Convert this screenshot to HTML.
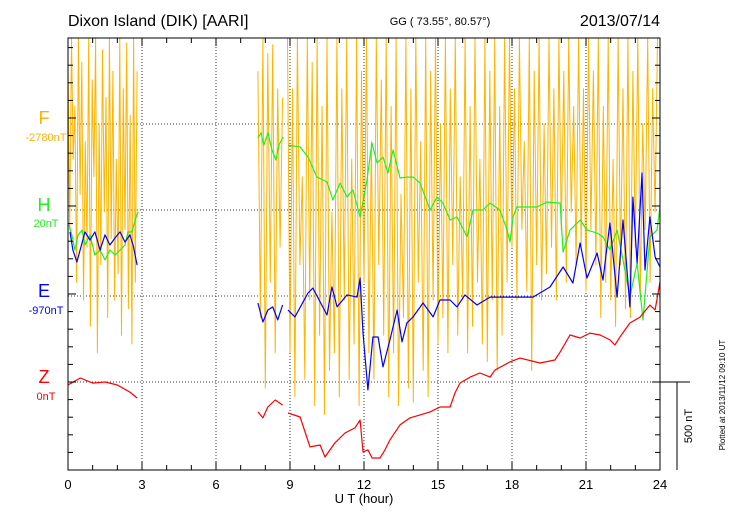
<!DOCTYPE html>
<html><head><meta charset="utf-8"><style>
body{margin:0;background:#fff;}
svg{display:block;font-family:"Liberation Sans",sans-serif;}
</style></head><body>
<svg id="chart" width="730" height="520" viewBox="0 0 730 520">
<defs><clipPath id="plotclip"><rect x="68" y="38" width="592" height="432"/></clipPath></defs>
<text x="68" y="26" font-size="16">Dixon Island (DIK)  [AARI]</text>
<text x="440" y="25" font-size="11" text-anchor="middle">GG ( 73.55°,  80.57°)</text>
<text x="660" y="26" font-size="16" text-anchor="end">2013/07/14</text>
<g id="grid"></g>
<g id="series" clip-path="url(#plotclip)"></g>
<rect x="68" y="38" width="592" height="432" fill="none" stroke="#000" stroke-width="1"/>
<g id="ticks"></g>
<text x="44" y="124" font-size="18" fill="#ffb000" text-anchor="middle">F</text>
<text x="46" y="141" font-size="11" fill="#ffb000" text-anchor="middle">-2780nT</text>
<text x="44" y="211" font-size="18" fill="#22ee22" text-anchor="middle">H</text>
<text x="46" y="227" font-size="11" fill="#22ee22" text-anchor="middle">20nT</text>
<text x="44" y="297" font-size="18" fill="#0000ff" text-anchor="middle">E</text>
<text x="46" y="314" font-size="11" fill="#0000ff" text-anchor="middle">-970nT</text>
<text x="44" y="383" font-size="18" fill="#ff0000" text-anchor="middle">Z</text>
<text x="46" y="400" font-size="11" fill="#ff0000" text-anchor="middle">0nT</text>
<text x="364" y="503" font-size="13" text-anchor="middle">U T (hour)</text>
<line x1="660" y1="382" x2="690" y2="382" stroke="#000"/>
<line x1="677" y1="382" x2="677" y2="470" stroke="#000"/>
<text transform="translate(692,426) rotate(-90)" font-size="11" text-anchor="middle">500 nT</text>
<text transform="translate(725,395) rotate(-90)" font-size="8" text-anchor="middle">Plotted at 2013/11/12 09:10 UT</text>
</svg>
<script>
const xTicks=[0,3,6,9,12,15,18,21,24];
const zT0=[0,0.5,1,1.5,2,2.5,2.8];
const zV0=[-17,23,-6,0,-17,-57,-91];
const zT1=[7.7,7.9,8.1,8.4,8.7];
const zV1=[-170,-204,-142,-102,-131];
const zT2=[8.92,9.41,9.81,10.22,10.42,10.82,11.23,11.63,11.84,11.96,12.16,12.33,12.65,12.85,13.05,13.46,13.86,14.27,14.68,15.08,15.49,15.69,15.89,16.30,16.70,17.11,17.31,17.92,18.32,19.13,19.74,19.95,20.35,20.76,21.16,21.57,21.97,22.17,22.38,22.78,23.19,23.59,23.80,24.0];
const zV2=[-176,-199,-369,-358,-426,-346,-290,-261,-216,-398,-386,-432,-432,-386,-329,-244,-204,-187,-170,-142,-142,-62,-6,28,51,28,68,114,136,108,125,170,267,250,278,267,239,210,256,335,369,437,409,568];
const eT0=[0.08,0.2,0.36,0.49,0.69,0.89,1.09,1.30,1.5,1.70,1.91,2.11,2.31,2.51,2.64,2.8];
const eV0=[364,261,193,261,364,318,364,261,347,290,330,364,307,347,290,176];
const eT1=[7.7,7.9,8.1,8.3,8.5,8.7];
const eV1=[-40,-148,-80,-62,-136,-51];
const eT2=[8.92,9.20,9.73,9.93,10.50,10.70,10.91,11.31,11.72,11.84,11.96,12.16,12.36,12.57,12.77,13.05,13.34,13.54,13.74,13.99,14.39,14.80,15.08,15.49,15.77,16.09,16.58,17.11,17.64,18.20,18.85,19.54,20.07,20.47,20.76,21.04,21.45,21.69,21.97,22.26,22.50,22.78,22.90,23.07,23.27,23.39,23.59,23.80,24.0];
const eV2=[-80,-119,17,45,-108,51,-62,6,-6,102,-210,-534,-233,-233,-403,-250,-80,-261,-153,-119,-40,-119,-23,-23,-62,6,-51,-6,-6,-6,-6,51,165,74,301,102,244,91,415,-6,432,-62,562,187,699,148,449,222,165];
const hT0=[0.04,0.16,0.28,0.41,0.57,0.69,0.89,1.09,1.30,1.50,1.70,1.91,2.11,2.31,2.43,2.59,2.72,2.84];
const hV0=[-85,-142,-227,-142,-114,-199,-142,-256,-227,-284,-227,-256,-227,-199,-125,-125,-57,-11];
const hT1=[7.70,7.82,7.94,8.11,8.27,8.43,8.55,8.72];
const hV1=[409,438,369,438,341,284,369,415];
const hT2=[8.92,9.41,9.73,10.09,10.50,10.74,11.03,11.31,11.55,11.84,12.12,12.32,12.53,12.77,12.97,13.18,13.46,13.74,13.99,14.27,14.68,14.96,15.20,15.49,15.77,16.18,16.42,16.82,17.11,17.51,17.80,17.92,18.04,18.20,18.61,19.01,19.42,19.95,20.07,20.35,20.76,21.04,21.45,21.69,21.97,22.26,22.50,22.78,23.07,23.31,23.59,23.88,24.0];
const hV2=[369,358,301,187,159,57,153,74,114,-40,170,381,267,301,210,341,182,187,187,153,0,74,40,-57,-40,-153,0,0,40,0,-114,-182,-40,17,17,17,45,40,-239,-114,-57,-114,-131,-153,-227,-114,-284,-494,-301,-625,-153,-114,17];
const fStart=[0,7.7,8.9];
const fStep=[0.07,0.1,0.1];
const fV0=[300,-600,488,-200,100,-900,488,-400,350,-1000,-100,-700,488,-1150,250,-300,488,-1300,0,-800,420,-500,150,-1100,488,-650,300,-1000,-200,-850,488,-1200,200,-600,460,-1050,50,-1250,488,-900,300];
const fV1=[300,-1100,488,-1500,400,-900,450,-1300,200,-700,150];
const fV2=[488,-1300,200,-1550,488,-800,-300,-1450,488,-1000,350,
-1600,488,-1200,100,-1650,488,-1400,-500,-1300,488,-1550,200,-1000,488,-1450,-200,-1250,488,-1600,300,
-900,488,-1300,-100,-1450,488,-800,250,-1200,488,
-1550,100,-1300,488,-1600,-400,-1100,488,-1500,200,-1580,488,-900,-100,-1400,488,-1550,300,-1000,488,
-1250,0,-1100,488,-1300,200,-800,488,-1200,-300,-1000,488,-1300,100,-1150,488,-900,-200,-1250,488,
-1350,300,-1000,488,-1400,100,-1200,488,-900,488,
-700,200,-1000,488,-600,-100,-950,488,-1400,300,-800,488,-1000,0,-850,488,-700,200,-1000,488,
-600,300,-900,488,-500,100,-800,488,-700,200,-950,488,-600,300,-800,
488,-1100,100,-900,488,-1000,-200,-1150,488,-800,200,-1050,488,-1100,300,
-700,488,-1000,0,-600,488,-900,200,-500,488];
const baseY={F:124,H:210,E:296,Z:382};
const pxPerNT=88/500;
function xs(h){return 68+h*592/24;}
function ys(comp,v){return baseY[comp]-v*pxPerNT;}
const NS="http://www.w3.org/2000/svg";
const grid=document.getElementById('grid');
const ticks=document.getElementById('ticks');
const series=document.getElementById('series');
function mk(parent,tag,attrs){const e=document.createElementNS(NS,tag);for(const k in attrs)e.setAttribute(k,attrs[k]);parent.appendChild(e);return e;}
xTicks.forEach(t=>{
  if(t>0&&t<24){const l=mk(grid,'line',{x1:xs(t),x2:xs(t),y1:38,y2:470,stroke:'#000','stroke-dasharray':'1,2','stroke-width':0.8});
  
  }
  const tx=mk(ticks,'text',{x:xs(t),y:489,'font-size':13,'text-anchor':'middle'});
  tx.textContent=t;
  
  
});
Object.keys(baseY).forEach(c=>{
  const l=mk(grid,'line',{x1:68,x2:660,y1:baseY[c],y2:baseY[c],stroke:'#000','stroke-dasharray':'1,2','stroke-width':0.8});
  
  
});
for(let h=1;h<24;h++){
  const x=xs(h),len=(h%3===0)?8:5;
  const a=mk(ticks,'line',{x1:x,x2:x,y1:470,y2:470-len,stroke:'#000'});
  
  
  const b=mk(ticks,'line',{x1:x,x2:x,y1:38,y2:38+len,stroke:'#000'});
  
  
}
for(let n=-500;n<=2000;n+=100){
  const y=ys('Z',n); if(y<39||y>469)continue;
  const len=(n%500===0)?8:5;
  const a=mk(ticks,'line',{x1:68,x2:68+len,y1:y,y2:y,stroke:'#000'});
  
  
  const b=mk(ticks,'line',{x1:660,x2:660-len,y1:y,y2:y,stroke:'#000'});
  
  
}
function line(comp,T,V,color,name,w){
  const d=T.map((t,i)=>(i?'L':'M')+xs(t).toFixed(1)+','+ys(comp,V[i]).toFixed(1)).join('');
  const p=mk(series,'path',{d:d,fill:'none',stroke:color,'stroke-width':w,'stroke-linejoin':'round'});
  
  
}
[fV0,fV1,fV2].forEach((V,s)=>{
  const T=V.map((v,i)=>fStart[s]+i*fStep[s]);
  line('F',T,V,'#ffb400','f-series-line',1);
});
line('H',hT0,hV0,'#22ee22','h-series-line',1.2);
line('H',hT1,hV1,'#22ee22','h-series-line',1.2);
line('H',hT2,hV2,'#22ee22','h-series-line',1.2);
line('E',eT0,eV0,'#0000ff','e-series-line',1.2);
line('E',eT1,eV1,'#0000ff','e-series-line',1.2);
line('E',eT2,eV2,'#0000ff','e-series-line',1.2);
line('Z',zT0,zV0,'#ff0000','z-series-line',1.2);
line('Z',zT1,zV1,'#ff0000','z-series-line',1.2);
line('Z',zT2,zV2,'#ff0000','z-series-line',1.2);
</script>
</body></html>
